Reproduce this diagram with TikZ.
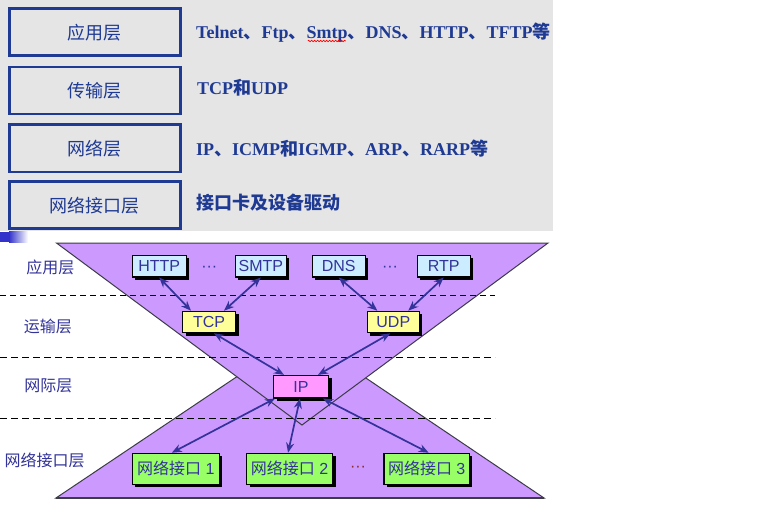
\documentclass[tikz,border=0pt]{standalone}
\usepackage{fontspec}
\setmainfont{Liberation Serif}
\setsansfont{Liberation Sans}
\newfontfamily\cjk{Noto Sans CJK SC}
\usetikzlibrary{shadows,arrows.meta,decorations.pathmorphing,calc}
\definecolor{navy}{RGB}{31,58,147}
\definecolor{bgrey}{RGB}{229,229,229}
\definecolor{lpurple}{RGB}{204,153,255}
\definecolor{arrowblue}{RGB}{51,51,153}
\definecolor{lblue}{RGB}{204,236,255}
\definecolor{lyellow}{RGB}{255,255,153}
\definecolor{lpink}{RGB}{255,153,255}
\definecolor{lgreen}{RGB}{153,255,102}
\definecolor{dotred}{RGB}{140,40,40}
\definecolor{vline}{RGB}{60,60,70}
\definecolor{gbar}{RGB}{51,51,204}
\begin{document}
\begin{tikzpicture}[x=1pt,y=-1pt,
  layerbox/.style={draw=navy,line width=2.6pt,minimum width=171pt,minimum height=47pt,inner sep=0pt,text=navy,font=\cjk\fontsize{18}{20}\selectfont},
  desc/.style={anchor=base west,inner sep=0pt,text=navy,font=\bfseries\fontsize{18}{20}\selectfont},
  proto/.style={draw=black,line width=1.1pt,inner sep=0pt,minimum height=21.5pt,text=arrowblue,font=\sffamily\fontsize{16}{18}\selectfont,drop shadow={shadow xshift=3pt,shadow yshift=-3pt,opacity=1,fill=black}},
  lvl/.style={text=arrowblue,inner sep=0pt,font=\cjk\fontsize{16}{18}\selectfont},
  dotsnode/.style={inner sep=0pt,anchor=base,font=\sffamily\fontsize{16}{18}\selectfont},
  link/.style={arrowblue,line width=1.7pt,{Stealth[length=10pt,width=8pt]}-{Stealth[length=10pt,width=8pt]}},
  sep/.style={black,dash pattern=on 7pt off 4pt,line width=1pt},
]
\useasboundingbox (0,0) rectangle (779,524);
\fill[white] (0,0) rectangle (779,524);
% top panel
\fill[bgrey] (0,0) rectangle (553,231);
\node[layerbox] (l1) at (94.8,32.3) {应用层};
\node[layerbox] (l2) at (94.8,90.5) {传输层};
\node[layerbox] (l3) at (94.8,148.3) {网络层};
\node[layerbox] (l4) at (94.8,205.2) {网络接口层};
\node[desc] (d1) at (196,38.5) {Telnet{\cjk 、}Ftp{\cjk 、}Smtp{\cjk 、}DNS{\cjk 、}HTTP{\cjk 、}TFTP{\cjk 等}};
\node[desc] (d2) at (197,95) {TCP{\cjk 和}UDP};
\node[desc] (d3) at (196,155) {IP{\cjk 、}ICMP{\cjk 和}IGMP{\cjk 、}ARP{\cjk 、}RARP{\cjk 等}};
\node[desc] (d4) at (196,209.5) {\cjk 接口卡及设备驱动};
\draw[red,line width=0.6pt,decorate,decoration={snake,amplitude=0.8pt,segment length=3pt}] (307.7,41) -- (345.7,41);
% gradient bar
\fill[gbar] (0,231.5) rectangle (9,242);
\shade[left color=gbar,right color=white] (9,231.5) rectangle (28,242);
% triangles
\filldraw[fill=lpurple,draw=vline,line width=1pt] (56,498) -- (544,498) -- (300.5,334) -- cycle;
\draw[vline,line width=1.6pt] (56,498) -- (544,498);
\filldraw[fill=lpurple,draw=vline,line width=1pt] (56.5,243) -- (548,243) -- (302,425) -- cycle;
% separators
\draw[sep,line width=1.8pt,dash pattern=on 6pt off 4pt] (0,295.5) -- (495,295.5);
\draw[sep] (0,357) -- (495,357);
\draw[sep] (0,418.3) -- (495,418.3);
% level labels
\node[lvl] (t1) at (50.4,267.3) {应用层};
\node[lvl] (t2) at (47.9,326) {运输层};
\node[lvl] (t3) at (48.3,385.7) {网际层};
\node[lvl] (t4) at (44.7,460) {网络接口层};
% protocol boxes
\node[proto,fill=lblue,minimum width=54pt] (http) at (159.2,266.2) {HTTP};
\node[proto,fill=lblue,minimum width=51pt] (smtp) at (260.8,266.2) {SMTP};
\node[proto,fill=lblue,minimum width=53pt] (dns) at (338.7,266.2) {DNS};
\node[proto,fill=lblue,minimum width=53pt] (rtp) at (443.7,266.2) {RTP};
\node[proto,fill=lyellow,minimum width=53pt] (tcp) at (209,322) {TCP};
\node[proto,fill=lyellow,minimum width=52pt] (udp) at (393.3,322) {UDP};
\node[proto,fill=lpink,minimum width=55pt,minimum height=22.5pt] (ip) at (301,386.7) {IP};
\node[proto,fill=lgreen,minimum width=87pt,minimum height=31pt] (if1) at (175.8,468.8) {{\cjk 网络接口} 1};
\node[proto,fill=lgreen,minimum width=86pt,minimum height=31pt] (if2) at (289.5,468.8) {{\cjk 网络接口} 2};
\node[proto,fill=lgreen,minimum width=85.5pt,minimum height=31pt] (if3) at (426.7,468.8) {{\cjk 网络接口} 3};
\node[dotsnode,text=arrowblue] (dots1) at (209.3,271.5) {···};
\node[dotsnode,text=arrowblue] (dots2) at (390,271.5) {···};
\node[dotsnode,text=dotred] (dots3) at (358,471) {···};
% links
\draw[link] (http.south) -- ([xshift=-18pt]tcp.north);
\draw[link] (smtp.south) -- ([xshift=15pt]tcp.north);
\draw[link] (dns.south) -- ([xshift=-16pt]udp.north);
\draw[link] (rtp.south) -- ([xshift=15pt]udp.north);
\draw[link] ([xshift=5pt]tcp.south) -- ([xshift=-17pt]ip.north);
\draw[link] ([xshift=-3pt]udp.south) -- ([xshift=17pt]ip.north);
\draw[link] ([xshift=-26pt]ip.south) -- ([xshift=-4pt]if1.north);
\draw[link] ([xshift=-1pt]ip.south) -- ([xshift=-1.5pt]if2.north);
\draw[link] ([xshift=22pt]ip.south) -- ([xshift=2pt]if3.north);
\end{tikzpicture}
\end{document}
